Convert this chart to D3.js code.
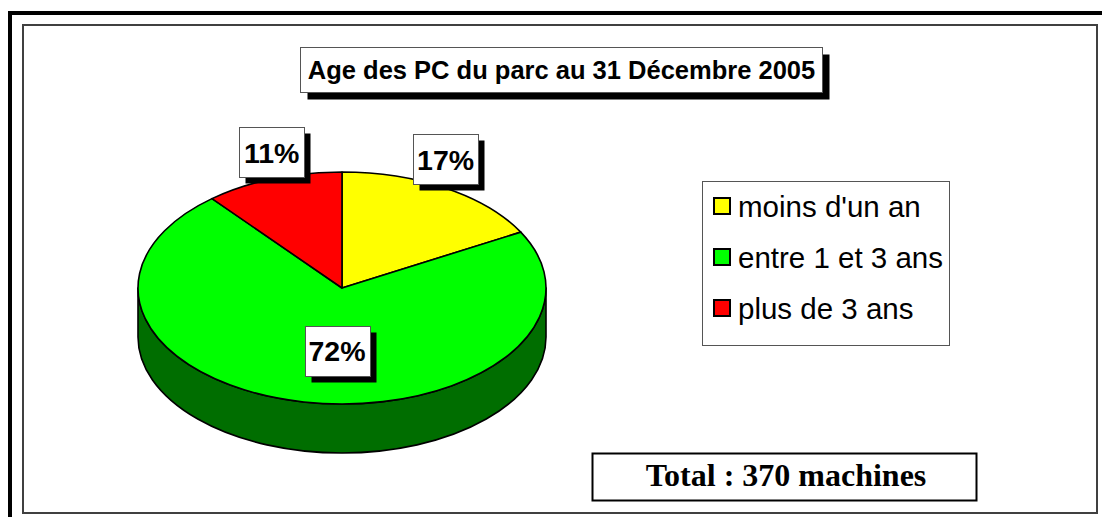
<!DOCTYPE html>
<html>
<head>
<meta charset="utf-8">
<script src="https://cdn.jsdelivr.net/npm/d3@7"></script>
<style>
  body { margin: 0; background: #fff; }
  svg { display: block; }
</style>
</head>
<body>
<svg id="chart" width="1102" height="517"></svg>
<script>
// data
const titleText = "Age des PC du parc au 31 Décembre 2005";
const categories = ["moins d'un an", "entre 1 et 3 ans", "plus de 3 ans"];
const shares = [17, 72, 11];
const totalText = "Total : 370 machines";

const topColors = ["#ffff00", "#00ff00", "#ff0000"];
const sideColors = ["#808000", "#006e00", "#800000"];

// geometry of the 3d pie
const pie3d = { cx: 342, cy: 288, rx: 204, ry: 116, depth: 49 };
// label placement: [radius factor, angle nudge in degrees]
const labelPlace = [[1.22, -6], [0.54, -8.2], [1.22, 3.4]];

const svg = d3.select("#chart");
const W = 1102, H = 517;

const colorTop = d3.scaleOrdinal().domain(categories).range(topColors);
const colorSide = d3.scaleOrdinal().domain(categories).range(sideColors);

// frames
svg.append("rect")
    .attr("x", 10).attr("y", 13)
    .attr("width", W + 20).attr("height", H + 20)
    .attr("fill", "none").attr("stroke", "#000").attr("stroke-width", 4);
svg.append("rect")
    .attr("x", 23).attr("y", 25)
    .attr("width", 1074).attr("height", 488)
    .attr("fill", "#fff").attr("stroke", "#404040").attr("stroke-width", 2);

// shadowed text box helper
function shadowBox(x, y, w, h, off) {
    svg.append("rect").attr("x", x + off).attr("y", y + off)
        .attr("width", w).attr("height", h).attr("fill", "#000");
    svg.append("rect").attr("x", x).attr("y", y)
        .attr("width", w).attr("height", h)
        .attr("fill", "#fff").attr("stroke", "#555").attr("stroke-width", 1);
}

// title
shadowBox(300.5, 47.5, 522, 45, 7);
svg.append("text")
    .attr("x", 561.5).attr("y", 79)
    .attr("text-anchor", "middle")
    .style("font-family", "'Liberation Sans', Arial, sans-serif")
    .style("font-weight", "bold")
    .style("font-size", "25.5px")
    .text(titleText);

// pie
const arcs = d3.pie().sort(null).value(d => d)(shares);
function pt(a, dy) {
    return [pie3d.cx + pie3d.rx * Math.sin(a), pie3d.cy - pie3d.ry * Math.cos(a) + (dy || 0)];
}

const g = svg.append("g");

// visible side walls (front half only)
arcs.forEach((d, i) => {
    const a0 = Math.max(d.startAngle, Math.PI / 2);
    const a1 = Math.min(d.endAngle, 3 * Math.PI / 2);
    if (a1 <= a0) return;
    const p0 = pt(a0), p1 = pt(a1);
    const q1 = pt(a1, pie3d.depth), q0 = pt(a0, pie3d.depth);
    const large = (a1 - a0) > Math.PI ? 1 : 0;
    const path = `M${p0}A${pie3d.rx},${pie3d.ry} 0 ${large} 1 ${p1}` +
        `L${q1}A${pie3d.rx},${pie3d.ry} 0 ${large} 0 ${q0}Z`;
    g.append("path")
        .attr("d", path)
        .attr("fill", colorSide(categories[i]))
        .attr("stroke", "#000").attr("stroke-width", 1.6)
        .attr("stroke-linejoin", "round");
});

// top faces
arcs.forEach((d, i) => {
    const p0 = pt(d.startAngle), p1 = pt(d.endAngle);
    const large = (d.endAngle - d.startAngle) > Math.PI ? 1 : 0;
    const path = `M${pie3d.cx},${pie3d.cy}L${p0}A${pie3d.rx},${pie3d.ry} 0 ${large} 1 ${p1}Z`;
    g.append("path")
        .attr("d", path)
        .attr("fill", colorTop(categories[i]))
        .attr("stroke", "#000").attr("stroke-width", 1.6)
        .attr("stroke-linejoin", "round");
});

// percentage labels
const fmt = d3.format(".0%");
arcs.forEach((d, i) => {
    const mid = (d.startAngle + d.endAngle) / 2 + labelPlace[i][1] * Math.PI / 180;
    const k = labelPlace[i][0];
    const x = pie3d.cx + pie3d.rx * k * Math.sin(mid);
    const y = pie3d.cy - pie3d.ry * k * Math.cos(mid);
    const bw = 65, bh = 50;
    shadowBox(Math.round(x - bw / 2) + 0.5, Math.round(y - bh / 2) + 0.5, bw, bh, 6);
    svg.append("text")
        .attr("x", x).attr("y", y + 10.5)
        .attr("text-anchor", "middle")
        .style("font-family", "'Liberation Sans', Arial, sans-serif")
        .style("font-weight", "bold")
        .style("font-size", "28.5px")
        .text(fmt(d.data / 100));
});

// legend
const legend = svg.append("g");
legend.append("rect")
    .attr("x", 702.5).attr("y", 181.5)
    .attr("width", 247).attr("height", 164)
    .attr("fill", "#fff").attr("stroke", "#555").attr("stroke-width", 1);
const legendY = d3.scalePoint().domain(categories).range([206, 308]);
categories.forEach(c => {
    legend.append("rect")
        .attr("x", 714).attr("y", legendY(c) - 8)
        .attr("width", 16).attr("height", 16)
        .attr("fill", colorTop(c)).attr("stroke", "#000").attr("stroke-width", 2);
    legend.append("text")
        .attr("x", 738).attr("y", legendY(c) + 10.5)
        .style("font-family", "'Liberation Sans', Arial, sans-serif")
        .style("font-size", "29.5px")
        .text(c);
});

// total box
svg.append("rect")
    .attr("x", 592.5).attr("y", 453.5)
    .attr("width", 384).attr("height", 47)
    .attr("fill", "#fff").attr("stroke", "#000").attr("stroke-width", 2);
svg.append("text")
    .attr("x", 786).attr("y", 486)
    .attr("text-anchor", "middle")
    .style("font-family", "'Liberation Serif', 'Times New Roman', serif")
    .style("font-weight", "bold")
    .style("font-size", "32px")
    .text(totalText);
</script>
</body>
</html>
